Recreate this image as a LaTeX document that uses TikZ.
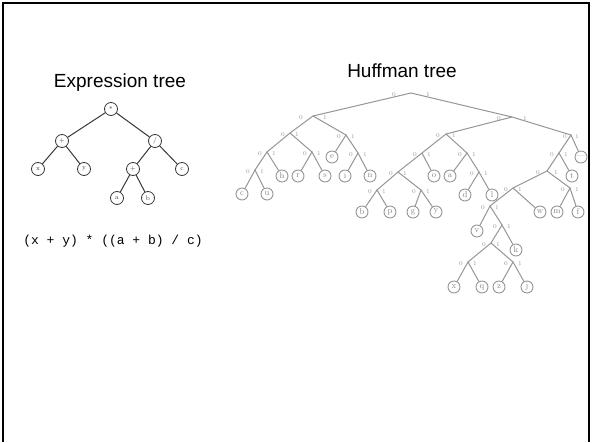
\documentclass[tikz,border=0pt]{standalone}
\usepackage{fontspec}
\newfontfamily\arialf{Liberation Sans}
\newfontfamily\monof{Liberation Mono}
\definecolor{hgray}{RGB}{150,150,150}
\definecolor{egray}{RGB}{55,55,55}
\tikzset{
  hleaf/.style={circle, draw=hgray, line width=0.9pt, minimum size=12pt, inner sep=0pt, text=hgray!90!black, font=\fontsize{8.5}{8.5}\selectfont},
  hedge/.style={draw=hgray, line width=1pt},
  bit/.style={inner sep=0pt, text=hgray, font=\fontsize{6}{6}\selectfont},
  enode/.style={circle, draw=egray, line width=0.8pt, minimum size=13pt, inner sep=0pt, text=egray, font=\fontsize{6.5}{6.5}\selectfont},
  eedge/.style={draw=egray, line width=1pt},
  title/.style={font=\arialf\fontsize{19}{19}\selectfont}
}
\newcommand\bits[2]{\path (#1) ++(-#2,1.5) node[bit]{0}; \path (#1) ++(#2,1.5) node[bit]{1};}
\begin{document}
\begin{tikzpicture}[x=1pt,y=-1pt]
\useasboundingbox (0,0) rectangle (592,442);
\draw[line width=2.5pt] (3,442) -- (3,3) -- (589,3) -- (589,442);

% ---------- Expression tree ----------
\node[title] (etitle) at (120,83) {Expression tree};
\node[enode] (emul) at (111,109) {*};
\node[enode] (eplus) at (62,141) {+};
\node[enode] (ediv) at (155,141) {/};
\node[enode] (ex) at (38,169) {x};
\node[enode] (ey) at (84,169) {y};
\node[enode] (eplus2) at (133,169) {+};
\node[enode] (ec) at (182,169) {c};
\node[enode] (ea) at (117,198) {a};
\node[enode] (eb) at (148,198) {b};
\draw[eedge] (emul) -- (eplus);
\draw[eedge] (emul) -- (ediv);
\draw[eedge] (eplus) -- (ex);
\draw[eedge] (eplus) -- (ey);
\draw[eedge] (ediv) -- (eplus2);
\draw[eedge] (ediv) -- (ec);
\draw[eedge] (eplus2) -- (ea);
\draw[eedge] (eplus2) -- (eb);
\node[font=\monof\fontsize{13}{13}\selectfont] (eexpr) at (113,241) {(x + y) * ((a + b) / c)};

% ---------- Huffman tree ----------
\node[title] (htitle) at (402,71) {Huffman tree};

\coordinate (root) at (411,93);
\coordinate (L) at (313,116);
\coordinate (R) at (512,117);
\coordinate (LL) at (290,133);
\coordinate (LR) at (346,135);
\coordinate (LLL) at (267,152);
\coordinate (LLR) at (312,152);
\coordinate (LLLL) at (255,170);
\coordinate (LRR) at (358,153);
\coordinate (RL) at (446,134);
\coordinate (RR) at (571,135);
\coordinate (RLL) at (422,153);
\coordinate (RLR) at (467,153);
\coordinate (RLLL) at (398,172);
\coordinate (RLLLL) at (377,190);
\coordinate (RLLLR) at (421,190);
\coordinate (RLRR) at (479,172);
\coordinate (RRL) at (559,153);
\coordinate (RRLL) at (547,171);
\coordinate (RRLLL) at (513,188);
\coordinate (RRLLR) at (570,188);
\coordinate (RRLLLL) at (490,206);
\coordinate (RRV) at (502,225);
\coordinate (RRVL) at (491,243);
\coordinate (XQ) at (468,262);
\coordinate (ZJ) at (513,262);

\node[hleaf] (hc) at (242,194) {c};
\node[hleaf] (hu) at (267,194) {u};
\node[hleaf] (hh) at (282,176) {h};
\node[hleaf] (hr) at (298,176) {r};
\node[hleaf] (hs) at (325,176) {s};
\node[hleaf] (he) at (332,157) {e};
\node[hleaf] (hi) at (345,176) {i};
\node[hleaf] (hn) at (370,176) {n};
\node[hleaf] (hb) at (362,212) {b};
\node[hleaf] (hp) at (390,212) {p};
\node[hleaf] (hg) at (413,212) {g};
\node[hleaf] (hy) at (436,212) {y};
\node[hleaf] (ho) at (434,176) {o};
\node[hleaf] (ha) at (450,176) {a};
\node[hleaf] (hd) at (465,195) {d};
\node[hleaf] (hl) at (492,195) {l};
\node[hleaf] (hdash) at (581,157) {\textemdash};
\node[hleaf] (ht) at (572,176) {t};
\node[hleaf] (hw) at (540,212) {w};
\node[hleaf] (hm) at (557,212) {m};
\node[hleaf] (hf) at (578,212) {f};
\node[hleaf] (hv) at (477,231) {v};
\node[hleaf] (hk) at (516,250) {k};
\node[hleaf] (hx) at (454,287) {x};
\node[hleaf] (hq) at (482,287) {q};
\node[hleaf] (hz) at (499,287) {z};
\node[hleaf] (hj) at (527,287) {j};

\draw[hedge] (L) -- (root) -- (R);
\draw[hedge] (LL) -- (L) -- (LR);
\draw[hedge] (LLL) -- (LL) -- (LLR);
\draw[hedge] (LLLL) -- (LLL) -- (hh);
\draw[hedge] (hc) -- (LLLL) -- (hu);
\draw[hedge] (hr) -- (LLR) -- (hs);
\draw[hedge] (he) -- (LR) -- (LRR);
\draw[hedge] (hi) -- (LRR) -- (hn);
\draw[hedge] (RL) -- (R) -- (RR);
\draw[hedge] (RLL) -- (RL) -- (RLR);
\draw[hedge] (RLLL) -- (RLL) -- (ho);
\draw[hedge] (RLLLL) -- (RLLL) -- (RLLLR);
\draw[hedge] (hb) -- (RLLLL) -- (hp);
\draw[hedge] (hg) -- (RLLLR) -- (hy);
\draw[hedge] (ha) -- (RLR) -- (RLRR);
\draw[hedge] (hd) -- (RLRR) -- (hl);
\draw[hedge] (RRL) -- (RR) -- (hdash);
\draw[hedge] (RRLL) -- (RRL) -- (ht);
\draw[hedge] (RRLLL) -- (RRLL) -- (RRLLR);
\draw[hedge] (RRLLLL) -- (RRLLL) -- (hw);
\draw[hedge] (hm) -- (RRLLR) -- (hf);
\draw[hedge] (hv) -- (RRLLLL) -- (RRV);
\draw[hedge] (RRVL) -- (RRV) -- (hk);
\draw[hedge] (XQ) -- (RRVL) -- (ZJ);
\draw[hedge] (hx) -- (XQ) -- (hq);
\draw[hedge] (hz) -- (ZJ) -- (hj);

\bits{root}{17}
\bits{L}{12}
\bits{R}{13}
\bits{LL}{7}
\bits{LR}{7}
\bits{LLL}{7}
\bits{LLR}{7}
\bits{LLLL}{7}
\bits{LRR}{7}
\bits{RL}{8}
\bits{RR}{6}
\bits{RLL}{7}
\bits{RLR}{7}
\bits{RLLL}{7}
\bits{RLLLL}{7}
\bits{RLLLR}{7}
\bits{RLRR}{7}
\bits{RRL}{7}
\bits{RRLL}{9}
\bits{RRLLL}{7}
\bits{RRLLR}{7}
\bits{RRLLLL}{7}
\bits{RRV}{7}
\bits{RRVL}{7}
\bits{XQ}{7}
\bits{ZJ}{7}
\end{tikzpicture}
\end{document}
